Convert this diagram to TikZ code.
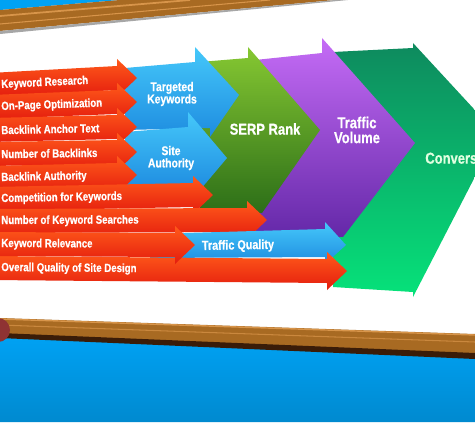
\documentclass[tikz,border=0pt]{standalone}
\usepackage{fontspec}
\newfontfamily\lblfont{Liberation Sans}[FakeStretch=0.82, BoldFeatures={FakeBold=0.6}]
\definecolor{wood}{HTML}{A86A22}
\definecolor{woodlt}{HTML}{D8954A}
\definecolor{wooddk}{HTML}{3A1C08}
\definecolor{sky}{HTML}{00A2F4}
\definecolor{ortop}{HTML}{FF5A1A}
\definecolor{orbot}{HTML}{E41C0E}
\definecolor{bltop}{HTML}{45C8FA}
\definecolor{blbot}{HTML}{1E8CE0}
\definecolor{grtop}{HTML}{86C832}
\definecolor{grbot}{HTML}{2C6E18}
\definecolor{putop}{HTML}{C56CF6}
\definecolor{pubot}{HTML}{6428A8}
\definecolor{cvtop}{HTML}{0E8A5E}
\definecolor{cvbot}{HTML}{06E27A}
\newcommand\orarrow[5]{%
  \path[orarr] (-10,#2-12) -- (#3-20,#4-12) -- (#3-20,#4-19) -- (#3,#4) -- (#3-20,#4+19) -- (#3-20,#4+12) -- (-10,#2+12) -- cycle;
  \pgfmathsetmacro\ang{atan((#2-#4)/(#3+10))}
  \node[lbl,anchor=west,rotate=\ang] (#1) at (1,#2) {#5};
}
\begin{document}
\begin{tikzpicture}[x=0.02cm,y=-0.02cm]
\tikzstyle{lbl}=[text=white, font=\lblfont\bfseries\fontsize{6.7}{7}\selectfont, inner sep=0pt]
\tikzstyle{big}=[text=white, font=\lblfont\bfseries\fontsize{9}{8.5}\selectfont, align=center, inner sep=0pt]
\tikzstyle{mid}=[text=white, font=\lblfont\bfseries\fontsize{7.2}{7}\selectfont, align=center, inner sep=0pt]
\tikzstyle{orarr}=[top color=ortop, bottom color=orbot]
\tikzstyle{bluearr}=[top color=bltop, bottom color=blbot]
\useasboundingbox (0,0) rectangle (475,422);
\clip (0,0) rectangle (475,422);
\fill[white] (0,0) rectangle (475,422);
\fill[sky] (0,0) -- (120,0) -- (0,10) -- cycle;
\fill[wood] (0,10) -- (120,0) -- (335,0) -- (0,31) -- cycle;
\draw[woodlt, line width=1pt] (0,16) -- (190,0);
\draw[woodlt, line width=0.6pt] (0,24) -- (270,0);
\fill[black!35] (0,31) -- (335,0) -- (348,0) -- (0,34) -- cycle;
\shade[top color=sky, bottom color=sky!85!black] (0,335) -- (475,356) -- (475,422) -- (0,422) -- cycle;
\fill[wood] (0,318) -- (475,334) -- (475,358) -- (0,337) -- cycle;
\draw[woodlt, line width=0.8pt] (0,319) -- (475,335);
\draw[woodlt!70!wood, line width=0.6pt] (0,325) -- (475,342);
\fill[wooddk] (0,333) -- (475,353) -- (475,359) -- (0,338) -- cycle;
\fill[red!45!black!80] (-2,330) circle (12);
\path[top color=cvtop, bottom color=cvbot] (333,52) -- (413,48) -- (413,43) -- (497,134) -- (413,297) -- (413,292) -- (333,287) -- cycle;
\node[big, anchor=west, text=green!12!white] (conv) at (425,158) {Conversion};
\path[top color=putop, bottom color=pubot] (255,60) -- (322,53) -- (322,38) -- (415,143) -- (343,237) -- (255,234) -- cycle;
\node[big] (volume) at (357,130) {Traffic\\Volume};
\path[top color=grtop, bottom color=grbot] (200,62) -- (248,58) -- (248,47) -- (320,130) -- (262,213) -- (200,210) -- cycle;
\node[big] (serp) at (265,129) {SERP Rank};
\path[bluearr] (125,68) -- (195,62) -- (195,47) -- (239,95) -- (210,137) -- (210,128) -- (125,130) -- cycle;
\node[mid] (targeted) at (172,94) {Targeted\\Keywords};
\path[bluearr] (125,132) -- (188,127) -- (188,112) -- (227,158) -- (200,190) -- (125,190) -- cycle;
\node[mid] (site) at (171,158) {Site\\Authority};
\orarrow{research}{85}{137}{78}{Keyword Research}
\orarrow{onpage}{107}{137}{102}{On-Page Optimization}
\orarrow{anchor}{130}{137}{127}{Backlink Anchor Text}
\orarrow{numlinks}{154}{137}{152}{Number of Backlinks}
\orarrow{linkauth}{178}{137}{175}{Backlink Authority}
\orarrow{competition}{199}{213}{195}{Competition for Keywords}
\orarrow{searches}{221}{267}{220}{Number of Keyword Searches}
\path[bluearr] (150,234) -- (325,229) -- (325,222) -- (346,245) -- (325,264) -- (325,257) -- (150,258) -- cycle;
\node[mid, font=\lblfont\bfseries\fontsize{7.5}{8}\selectfont, rotate=1] (quality) at (238,246) {Traffic Quality};
\orarrow{design}{268}{347}{271}{Overall Quality of Site Design}
\orarrow{relevance}{244}{195}{245}{Keyword Relevance}
\end{tikzpicture}
\end{document}
